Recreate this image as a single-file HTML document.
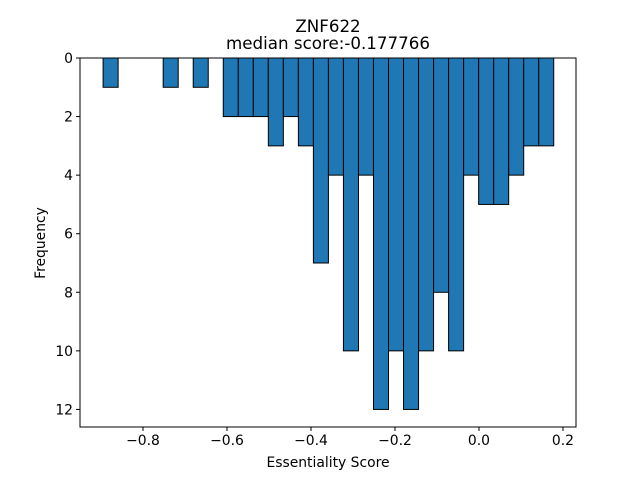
<!DOCTYPE html>
<html><head><meta charset="utf-8"><style>
html,body{margin:0;padding:0;background:#fff;}
svg{display:block;font-family:"DejaVu Sans","Liberation Sans",sans-serif;}
</style></head><body>
<svg id="chart" width="640" height="480" viewBox="0 0 640 480">
<rect width="640" height="480" fill="#fff"/>
<text x="328" y="32" text-anchor="middle" font-size="16.7">ZNF622</text>
<text x="328" y="49" text-anchor="middle" font-size="16.7">median score:-0.177766</text>
<g id="bars"></g>
<g id="axes"></g>
<text x="328" y="467" text-anchor="middle" font-size="13.9">Essentiality Score</text>
<text transform="translate(45,243) rotate(-90)" text-anchor="middle" font-size="13.9">Frequency</text>
</svg>
<script>
const binStart = -0.895;
const binEnd = 0.178;
const counts = [1,0,0,0,1,0,1,0,2,2,2,3,2,3,7,4,10,4,12,10,12,10,8,10,4,5,5,4,3,3];
const xTicks = [-0.8,-0.6,-0.4,-0.2,0.0,0.2];
const xTickLabels = ["\u22120.8","\u22120.6","\u22120.4","\u22120.2","0.0","0.2"];
const yTicks = [0,2,4,6,8,10,12];

const L=80,R=576,T=58,B=427;
const xmin=-0.95,xmax=0.231,ymax=12.6;
const xs=v=>L+(v-xmin)/(xmax-xmin)*(R-L);
const ys=v=>T+v/ymax*(B-T);
const NS="http://www.w3.org/2000/svg";
const bars=document.getElementById('bars');
const axes=document.getElementById('axes');
const w=(binEnd-binStart)/counts.length;
counts.forEach((c,i)=>{
  if(c<=0) return;
  const x0=xs(binStart+i*w), x1=xs(binStart+(i+1)*w);
  const r=document.createElementNS(NS,'rect');
  r.setAttribute('x',x0);r.setAttribute('y',ys(0));
  r.setAttribute('width',x1-x0);r.setAttribute('height',ys(c)-ys(0));
  r.setAttribute('fill','#1f77b4');r.setAttribute('stroke','#000');r.setAttribute('stroke-width','1');
  
  
  bars.appendChild(r);
});
const frame=document.createElementNS(NS,'rect');
frame.setAttribute('x',L);frame.setAttribute('y',T);frame.setAttribute('width',R-L);frame.setAttribute('height',B-T);
frame.setAttribute('fill','none');frame.setAttribute('stroke','#000');frame.setAttribute('stroke-width','1');


axes.appendChild(frame);
xTicks.forEach((v,i)=>{
  const x=xs(v);
  const l=document.createElementNS(NS,'line');
  l.setAttribute('x1',x);l.setAttribute('x2',x);l.setAttribute('y1',B);l.setAttribute('y2',B+4);l.setAttribute('stroke','#000');
  
  
  axes.appendChild(l);
  const t=document.createElementNS(NS,'text');
  t.setAttribute('x',x);t.setAttribute('y',B+18);t.setAttribute('text-anchor','middle');t.setAttribute('font-size','13.9');
  t.textContent=xTickLabels[i];
  
  
  axes.appendChild(t);
});
yTicks.forEach(v=>{
  const y=ys(v);
  const l=document.createElementNS(NS,'line');
  l.setAttribute('x1',L-4);l.setAttribute('x2',L);l.setAttribute('y1',y);l.setAttribute('y2',y);l.setAttribute('stroke','#000');
  
  
  axes.appendChild(l);
  const t=document.createElementNS(NS,'text');
  t.setAttribute('x',L-7);t.setAttribute('y',y+5);t.setAttribute('text-anchor','end');t.setAttribute('font-size','13.9');
  t.textContent=String(v);
  
  
  axes.appendChild(t);
});
</script>
</body></html>
